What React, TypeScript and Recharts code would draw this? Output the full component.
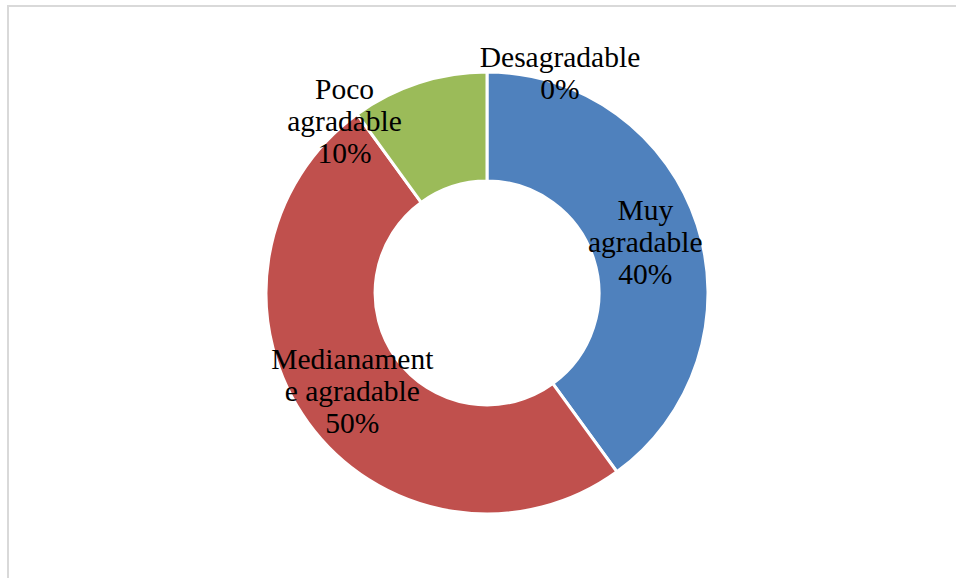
import { PieChart, Pie, Cell } from "recharts"

const categories = ["Muy agradable", "Medianamente agradable", "Poco agradable", "Desagradable"]
const values = [40, 50, 10, 0]
const percentLabels = ["40%", "50%", "10%", "0%"]
const labelLines = [
  ["Muy", "agradable"],
  ["Medianament", "e agradable"],
  ["Poco", "agradable"],
  ["Desagradable"],
]
const colors = ["#4F81BD", "#C0504D", "#9BBB59", "#8064A2"]
// Excel moved the two small labels outside the ring
const labelNudge = [[0, 0], [0, 0], [-91, -14], [73, -54]]

const data = categories.map((name, i) => ({ name, value: values[i] }))

const RADIAN = Math.PI / 180
const LINE_H = 32

const renderLabel = (props: any) => {
  const { cx, cy, midAngle, innerRadius, outerRadius, index } = props
  const r = (innerRadius + outerRadius) / 2
  const x = cx + r * Math.cos(-midAngle * RADIAN) + labelNudge[index][0]
  const y = cy + r * Math.sin(-midAngle * RADIAN) + labelNudge[index][1]
  const lines = [...labelLines[index], percentLabels[index]]
  return (
    <text
      key={index}
      x={x}
      y={y}
      textAnchor="middle"
      fill="#000"
      style={{ fontFamily: "'Liberation Serif', serif", fontSize: 29.5 }}
    >
      {lines.map((l, i) => (
        <tspan key={i} x={x} y={y + (i - (lines.length - 1) / 2) * LINE_H} dominantBaseline="central">
          {l}
        </tspan>
      ))}
    </text>
  )
}

export default function App() {
  return (
    <div style={{ position: "absolute", top: 0, left: 0, width: 956, height: 578, background: "#fff", overflow: "hidden" }}>
      <div style={{ position: "absolute", top: 5, left: 7, width: 1000, height: 700, borderTop: "2px solid #d9d9d9", borderLeft: "2px solid #d9d9d9" }} />
      <div style={{ position: "absolute", top: 0, left: 0 }}>
        <PieChart width={956} height={578} margin={{ top: 0, right: 0, bottom: 0, left: 0 }}>
          <Pie
            data={data}
            dataKey="value"
            cx={487}
            cy={293}
            innerRadius={112}
            outerRadius={221}
            startAngle={90}
            endAngle={-270}
            stroke="#fff"
            strokeWidth={3}
            label={renderLabel}
            labelLine={false}
            isAnimationActive={false}
          >
            {data.map((d, i) => (
              <Cell key={d.name} fill={colors[i]} />
            ))}
          </Pie>
        </PieChart>
      </div>
    </div>
  )
}
